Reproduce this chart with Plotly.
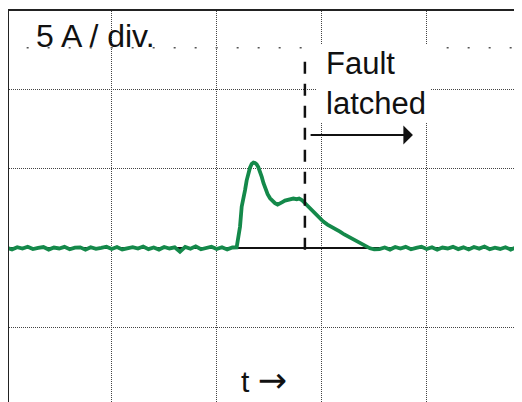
import plotly.graph_objects as go

# ---- data (time in scope divisions, current in A) ----
t_pre = [0.00, 0.05, 0.10, 0.15, 0.20, 0.25, 0.30, 0.35, 0.40, 0.45, 0.50,
         0.55, 0.60, 0.65, 0.70, 0.75, 0.80, 0.85, 0.90, 0.95, 1.00, 1.05,
         1.10, 1.15, 1.20, 1.25, 1.30, 1.35, 1.40, 1.45, 1.50, 1.55, 1.60,
         1.65, 1.70, 1.75, 1.80, 1.85, 1.90, 1.95, 2.00, 2.05, 2.10, 2.15]
i_pre = [0.02, -0.08, 0.06, -0.03, 0.09, -0.06, 0.01, 0.07, -0.09, 0.04, -0.02,
         0.08, -0.07, 0.03, 0.05, -0.10, 0.06, -0.04, 0.02, 0.09, -0.05, 0.07,
         -0.08, 0.01, 0.06, -0.03, 0.10, -0.06, 0.04, -0.09, 0.07, -0.02, 0.05,
         -0.22, 0.08, -0.04, 0.11, -0.07, 0.03, 0.09, -0.05, 0.06, -0.08, 0.04]

t_pulse = [2.190, 2.222, 2.238, 2.255, 2.270, 2.285, 2.301, 2.317, 2.333, 2.350,
           2.365, 2.380, 2.396, 2.412, 2.429, 2.445, 2.460, 2.485, 2.508, 2.530,
           2.555, 2.580, 2.603, 2.625, 2.650, 2.675, 2.698, 2.730, 2.762, 2.785,
           2.810, 2.830, 2.850, 2.878, 2.905, 2.930, 2.952, 2.985, 3.015, 3.055,
           3.095, 3.135, 3.174, 3.215, 3.253, 3.295, 3.333, 3.365, 3.396, 3.430,
           3.460, 3.500]
i_pulse = [0.05, 1.35, 2.61, 3.10, 3.65, 4.25, 4.71, 5.06, 5.30, 5.38,
           5.36, 5.28, 5.10, 4.85, 4.48, 4.10, 3.77, 3.40, 3.14, 2.95,
           2.83, 2.74, 2.80, 2.90, 2.99, 3.05, 3.08, 3.12, 3.08, 3.12,
           3.03, 2.90, 2.72, 2.55, 2.40, 2.24, 2.09, 1.85, 1.67, 1.48,
           1.35, 1.18, 1.04, 0.86, 0.72, 0.55, 0.41, 0.30, 0.20, 0.08,
           -0.01, -0.08]

t_post = [3.55, 3.60, 3.65, 3.70, 3.75, 3.80, 3.85, 3.90, 3.95, 4.00, 4.05,
          4.10, 4.15, 4.20, 4.25, 4.30, 4.35, 4.40, 4.45, 4.50, 4.55, 4.60,
          4.65, 4.70, 4.75, 4.80, 4.85, 4.90, 4.95]
i_post = [-0.06, 0.04, -0.09, 0.07, -0.03, 0.08, -0.07, 0.02, 0.09, -0.05, 0.06,
          -0.10, 0.04, -0.02, 0.08, -0.06, 0.05, -0.08, 0.07, -0.03, 0.10, -0.07,
          0.03, -0.05, 0.06, -0.09, 0.04, -0.02, -0.05]

t_latch = 2.84          # fault latch instant (div)
scale_text = "5 A / div."
latch_text = "Fault<br>latched"
time_text = "t <span style='font-family:DejaVu Sans;font-size:35px'>\u2192</span>"

FONT = "Liberation Sans, Arial, sans-serif"
GREEN = "#14894a"

t_all = t_pre + t_pulse + t_post
i_all = i_pre + i_pulse + i_post

fig = go.Figure()
fig.add_trace(go.Scatter(x=t_all, y=i_all, mode="lines",
                         line=dict(color=GREEN, width=3.8),
                         hoverinfo="skip", showlegend=False))

# dotted tick row near top
fig.add_shape(type="line", x0=0.19, x1=4.95, y0=12.6, y1=12.6,
              line=dict(color="#555555", width=1.5, dash="2px,19px"), layer="above")
# white box behind the "Fault latched" label
fig.add_shape(type="rect", x0=2.955, x1=4.041, y0=7.94, y1=12.79,
              fillcolor="white", line=dict(width=0), layer="above")
# latch marker
fig.add_shape(type="line", x0=t_latch, x1=t_latch, y0=11.72, y1=-0.30,
              line=dict(color="#111111", width=2.5, dash="12px,10px"), layer="above")

fig.add_annotation(x=0.26, y=13.33, text=scale_text, showarrow=False,
                   xanchor="left", yanchor="middle",
                   font=dict(family=FONT, size=32, color="#111111"))
fig.add_annotation(x=3.02, y=10.36, text=latch_text, showarrow=False,
                   xanchor="left", yanchor="middle", align="left",
                   font=dict(family=FONT, size=31, color="#111111"))
fig.add_annotation(x=2.45, y=-9.68, text=time_text, showarrow=False,
                   xanchor="center", yanchor="bottom",
                   font=dict(family=FONT, size=30, color="#111111"))
fig.add_annotation(x=3.869, y=7.12, ax=2.88, ay=7.12, axref="x", ayref="y",
                   text="", showarrow=True, arrowhead=1, arrowsize=1.6,
                   arrowwidth=2, arrowcolor="#111111")

axis_common = dict(showticklabels=False, ticks="", showgrid=True,
                   gridcolor="#444444", gridwidth=1, griddash="1px,1px",
                   showline=True, linecolor="#222222", linewidth=1.5)

fig.update_xaxes(range=[0.0219, 4.9076], dtick=1, tick0=0, side="top",
                 zeroline=False, **axis_common)
fig.update_yaxes(range=[-9.68, 14.92], dtick=5, tick0=0,
                 zeroline=True, zerolinecolor="#111111", zerolinewidth=1.5,
                 **axis_common)

fig.update_layout(width=514, height=394,
                  margin=dict(l=1, r=0, t=3, b=0),
                  paper_bgcolor="white", plot_bgcolor="white",
                  font=dict(family=FONT))

fig.write_html("out.html")
